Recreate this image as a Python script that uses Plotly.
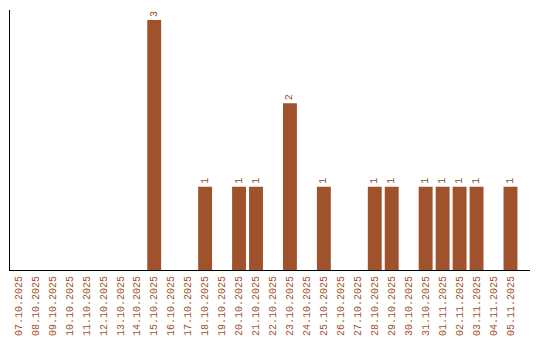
import plotly.graph_objects as go

dates = ["07.10.2025", "08.10.2025", "09.10.2025", "10.10.2025", "11.10.2025",
         "12.10.2025", "13.10.2025", "14.10.2025", "15.10.2025", "16.10.2025",
         "17.10.2025", "18.10.2025", "19.10.2025", "20.10.2025", "21.10.2025",
         "22.10.2025", "23.10.2025", "24.10.2025", "25.10.2025", "26.10.2025",
         "27.10.2025", "28.10.2025", "29.10.2025", "30.10.2025", "31.10.2025",
         "01.11.2025", "02.11.2025", "03.11.2025", "04.11.2025", "05.11.2025"]
counts = [0, 0, 0, 0, 0, 0, 0, 0, 3, 0,
          0, 1, 0, 1, 1, 0, 2, 0, 1, 0,
          0, 1, 1, 0, 1, 1, 1, 1, 0, 1]

bar_color = "#a0522d"
labels = [str(v) if v else "" for v in counts]

fig = go.Figure(go.Bar(
    x=dates, y=counts, text=labels, textposition="outside", textangle=-90,
    textfont=dict(family="Liberation Mono", size=10, color="#8b4a2b"),
    marker=dict(color=bar_color, line=dict(width=0)),
    cliponaxis=False,
))

fig.update_layout(
    width=540, height=340,
    margin=dict(l=10, r=10, t=10, b=70, autoexpand=False),
    plot_bgcolor="white", paper_bgcolor="white",
    bargap=0.18, showlegend=False,
)
fig.update_xaxes(
    type="category", range=[-0.5, 30.15], automargin=False,
    showline=True, linecolor="black", linewidth=1,
    showgrid=False, ticks="outside", ticklen=1, tickcolor="rgba(0,0,0,0)",
    tickangle=-90,
    tickfont=dict(family="Liberation Mono", size=10, color=bar_color),
)
fig.update_yaxes(
    range=[0, 3.12], showline=True, linecolor="black", linewidth=1,
    showgrid=False, zeroline=False, showticklabels=False, ticks="",
    automargin=False,
)

fig.write_html("out.html")
